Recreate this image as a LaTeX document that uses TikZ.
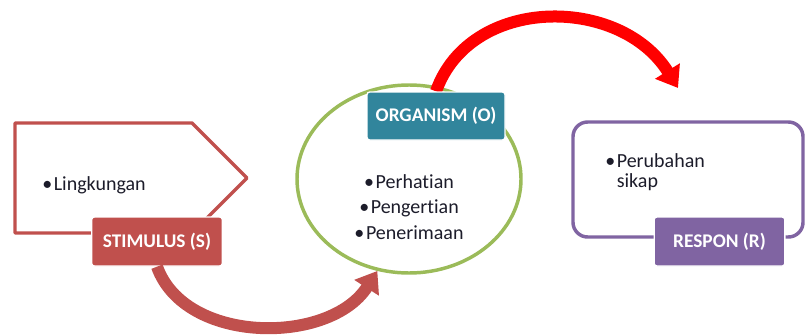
\documentclass[tikz,border=0pt]{standalone}
\usepackage{fontspec,xcolor,tikz}
\setmainfont[Ligatures=NoCommon]{Carlito}
\usetikzlibrary{arrows.meta,shapes.geometric,backgrounds}
\definecolor{ink}{HTML}{1C1C2A}
\definecolor{stim}{HTML}{C0504D}
\definecolor{orga}{HTML}{31859C}
\definecolor{ring}{HTML}{9BBB59}
\definecolor{resp}{HTML}{8064A2}
\definecolor{hot}{HTML}{FF0000}
\newcommand{\isi}{\fontsize{15}{15}\selectfont}
\newcommand{\judul}{\fontsize{14.5}{15}\selectfont\bfseries}
\newcommand{\titik}{\textbullet\kern1.2pt}
\tikzset{kotak/.style={fill=#1,draw=white,line width=1pt,rounded corners=2pt,
    text=white,font=\judul,minimum width=98pt,minimum height=36.75pt,inner sep=0},
  garis/.style={draw=#1,line width=2.6pt},
  panah/.style={draw=#1,line width=9pt,-{Triangle[length=15pt,width=21pt]}}}

\begin{document}
\begin{tikzpicture}[x=0.75pt,y=-0.75pt]
\useasboundingbox (0,0) rectangle (805,335);
\draw[garis=stim,line join=round] (15,123) -- (192,123) -- (247,178) -- (192,233) -- (15,233) -- cycle;
\node[anchor=base west,inner sep=0,text=ink,font=\isi] (lingkungan) at (42,190) {\titik Lingkungan};
\node[kotak=stim] (stimulus) at (157,241.5) {STIMULUS (S)};
\begin{scope}[on background layer]
\node[ellipse,garis=ring,minimum width=168pt,minimum height=141pt,inner sep=0] (organisme) at (409,179) {};
\end{scope}
\node[align=center,inner sep=0,text=ink,font=\fontsize{15}{19}\selectfont] (isiorg) at (409,207)
  {\titik Perhatian\\\titik Pengertian\\\titik Penerimaan};
\node[kotak=orga,minimum width=103.5pt,minimum height=36pt] (organism) at (436,116) {ORGANISM (O)};
\node[garis=resp,rounded corners=11pt,minimum width=172.5pt,minimum height=86.25pt,inner sep=0] (responbox) at (688,179.5) {};
\node[anchor=north west,inner sep=0,align=left,text=ink,font=\isi] (isiresp) at (605,153)
  {\titik Perubahan\\\phantom{\titik}sikap};
\node[kotak=resp] (respon) at (719.5,241.5) {RESPON (R)};
\coordinate (ujungresp) at (678,88);
\draw[panah=stim] (stimulus.south) .. controls (185,345) and (330,345) .. (organisme.-109);
\begin{scope}[on background layer]
\draw[panah=hot] (organism.north) .. controls (470,-5) and (620,-5) .. (ujungresp);
\end{scope}
\end{tikzpicture}
\end{document}
